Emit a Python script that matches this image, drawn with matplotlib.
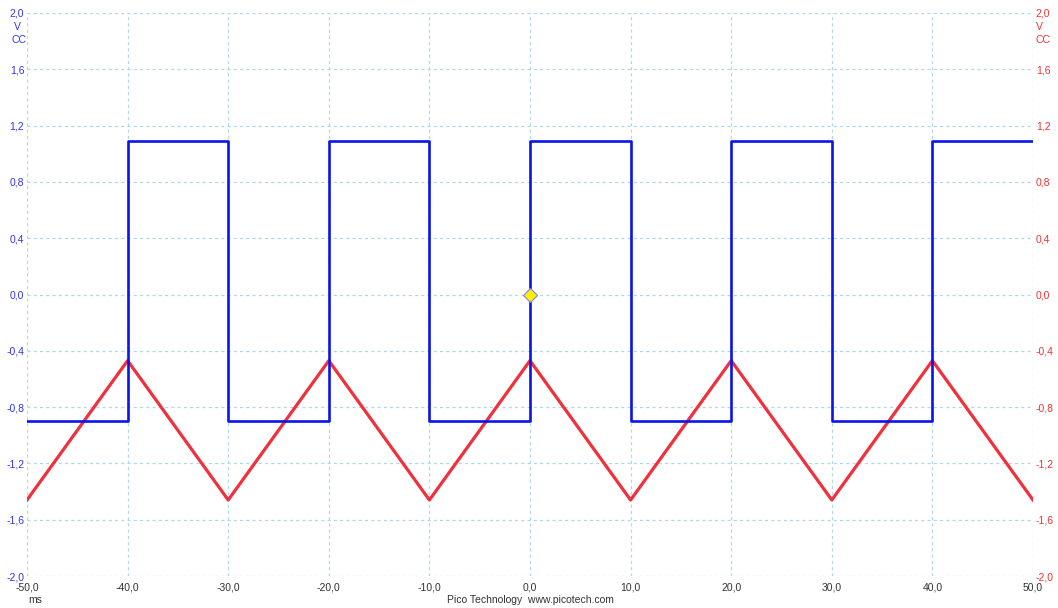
import numpy as np
import matplotlib
matplotlib.use("Agg")
import matplotlib.pyplot as plt

plt.rcParams["font.family"] = ["Liberation Sans", "DejaVu Sans"]

# Channel A: square wave (ms, V)
sq_time = [-50, -40, -40, -30, -30, -20, -20, -10, -10, 0, 0, 10, 10, 20, 20, 30, 30, 40, 40, 50]
sq_volt = [-0.90, -0.90, 1.09, 1.09, -0.90, -0.90, 1.09, 1.09, -0.90, -0.90,
           1.09, 1.09, -0.90, -0.90, 1.09, 1.09, -0.90, -0.90, 1.09, 1.09]

# Channel B: triangle wave (ms, V)
tri_time = [-50, -40, -30, -20, -10, 0, 10, 20, 30, 40, 50]
tri_volt = [-1.46, -0.47, -1.46, -0.47, -1.46, -0.47, -1.46, -0.47, -1.46, -0.47, -1.46]

x_ticks = [-50, -40, -30, -20, -10, 0, 10, 20, 30, 40, 50]
y_ticks = [-2.0, -1.6, -1.2, -0.8, -0.4, 0.0, 0.4, 0.8, 1.2, 1.6, 2.0]

def comma(v):
    return f"{v:.1f}".replace(".", ",")

fig = plt.figure(figsize=(10.58, 6.08), dpi=100)
ax = fig.add_axes([27 / 1058, 1 - 576 / 608, 1006 / 1058, 563 / 608])

ax.plot(sq_time, sq_volt, color="#0a14ec", lw=1.9, zorder=3)
ax.plot(tri_time, tri_volt, color="#f0303c", lw=2.3, zorder=2)
ax.plot([0], [0], marker="D", ms=7, color="#ffee00", mec="#8080ff", mew=0.8, zorder=4)

ax.set_xlim(-50, 50)
ax.set_ylim(-2.0, 2.0)
ax.set_xticks(x_ticks)
ax.set_yticks(y_ticks)
ax.grid(True, color="#b0d8e8", ls=(0, (2.5, 2.5)), lw=0.9)
for s in ax.spines.values():
    s.set_visible(False)
ax.tick_params(length=0)
ax.set_xticklabels([comma(v) for v in x_ticks], fontsize=7.5, color="#333333")
ax.tick_params(axis="x", pad=5)
ax.set_yticklabels([comma(v) for v in y_ticks], fontsize=7.5, color="#3333ee")
ax.tick_params(axis="y", pad=2)

ax2 = ax.twinx()
ax2.set_ylim(-2.0, 2.0)
ax2.set_yticks(y_ticks)
ax2.set_yticklabels([comma(v) for v in y_ticks], fontsize=7.5, color="#ee3333")
ax2.tick_params(length=0, pad=2)
for s in ax2.spines.values():
    s.set_visible(False)

# unit labels under the top tick
fig.text(14 / 1058, 1 - 27 / 608, "V", fontsize=7.5, color="#3333ee", ha="left", va="center")
fig.text(11 / 1058, 1 - 40 / 608, "CC", fontsize=7.5, color="#3333ee", ha="left", va="center")
fig.text(1036 / 1058, 1 - 27 / 608, "V", fontsize=7.5, color="#ee3333", ha="left", va="center")
fig.text(1036 / 1058, 1 - 40 / 608, "CC", fontsize=7.5, color="#ee3333", ha="left", va="center")

fig.text(35 / 1058, 1 - 600 / 608, "ms", fontsize=7.5, color="#333333", ha="center", va="center")
fig.text(530 / 1058, 1 - 600 / 608, "Pico Technology  www.picotech.com", fontsize=7.5,
         color="#333333", ha="center", va="center")

fig.savefig("out.png", dpi=100)
